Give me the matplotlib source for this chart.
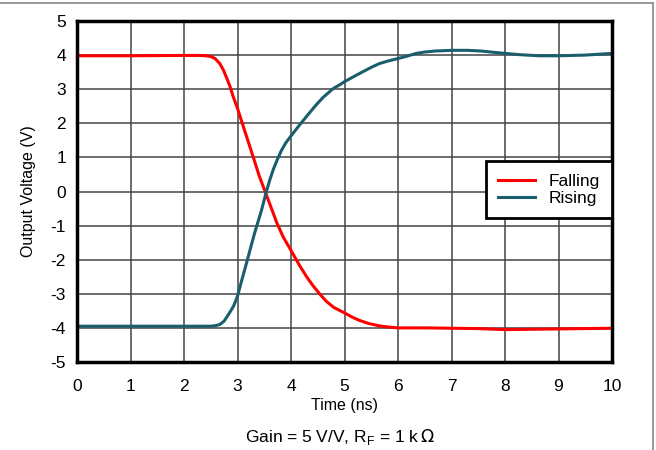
import matplotlib.pyplot as plt
from matplotlib.lines import Line2D

plt.rcParams["font.family"] = ["Liberation Sans", "DejaVu Sans"]
plt.rcParams["axes.unicode_minus"] = False

# Falling edge (red)
falling_t = [0.0, 1.0, 2.0, 2.3, 2.4, 2.5, 2.58, 2.67, 2.74, 2.79, 2.86,
             2.92, 3.0, 3.11, 3.23, 3.32, 3.41, 3.54, 3.6, 3.73, 3.85,
             3.99, 4.16, 4.3, 4.41, 4.55, 4.66, 4.8, 5.0, 5.15, 5.28,
             5.45, 5.65, 5.85, 6.0, 6.55, 7.0, 7.5, 8.0, 8.5, 9.0, 9.5, 10.0]
falling_v = [3.98, 3.98, 3.99, 3.99, 3.98, 3.96, 3.9, 3.75, 3.55, 3.36, 3.08,
             2.78, 2.44, 1.9, 1.32, 0.88, 0.44, -0.1, -0.35, -0.9, -1.32,
             -1.70, -2.17, -2.52, -2.76, -3.03, -3.22, -3.4, -3.56, -3.69, -3.78,
             -3.87, -3.94, -3.98, -4.0, -4.0, -4.01, -4.02, -4.05, -4.04, -4.03,
             -4.02, -4.01]

# Rising edge (teal)
rising_t = [0.0, 1.0, 2.0, 2.5, 2.6, 2.67, 2.75, 2.85, 2.93, 3.0, 3.08,
            3.17, 3.25, 3.32, 3.45, 3.54, 3.6, 3.67, 3.75, 3.82, 3.9, 3.99,
            4.08, 4.16, 4.3, 4.47, 4.6, 4.79, 4.9, 5.0, 5.15, 5.34, 5.5,
            5.65, 5.8, 6.0, 6.15, 6.34, 6.5, 6.7, 7.0, 7.3, 7.55, 7.8, 8.0,
            8.3, 8.64, 9.0, 9.5, 10.0]
rising_v = [-3.95, -3.95, -3.95, -3.95, -3.93, -3.9, -3.8, -3.56, -3.35, -3.07,
            -2.6, -2.09, -1.62, -1.22, -0.54, 0.0, 0.32, 0.65, 0.96, 1.2, 1.42,
            1.61, 1.79, 1.95, 2.22, 2.54, 2.76, 3.02, 3.12, 3.22, 3.35, 3.51,
            3.64, 3.75, 3.82, 3.9, 3.96, 4.05, 4.09, 4.12, 4.14, 4.14, 4.12,
            4.08, 4.05, 4.01, 3.98, 3.98, 4.0, 4.05]

x_ticks = list(range(0, 11))
y_ticks = list(range(-5, 6))

fig = plt.figure(figsize=(6.56, 4.5), dpi=100)
ax = fig.add_axes([77 / 656, 1 - 362 / 450, (612 - 77) / 656, (362 - 21) / 450])

ax.plot(falling_t, falling_v, color="#ff0000", linewidth=2.2,
        solid_joinstyle="round", label="Falling")
ax.plot(rising_t, rising_v, color="#1a5e6e", linewidth=2.2,
        solid_joinstyle="round", label="Rising")

ax.set_xlim(0, 10)
ax.set_ylim(-5, 5)
ax.set_xticks(x_ticks)
ax.set_yticks(y_ticks)
ax.tick_params(length=0, labelsize=12.5)
ax.tick_params(axis="x", pad=12)
ax.tick_params(axis="y", pad=8)
ax.grid(True, color="#444444", linewidth=1.1)
ax.set_axisbelow(True)
for spine in ax.spines.values():
    spine.set_linewidth(2.5)
    spine.set_color("black")

ax.set_xlabel("Time (ns)", fontsize=11.5, labelpad=3)
ax.set_ylabel("Output Voltage (V)", fontsize=11.5, labelpad=10)

legend = ax.legend(
    loc="upper right",
    bbox_to_anchor=(1.0, 0.588),
    fontsize=12.5,
    frameon=True,
    fancybox=False,
    handlelength=2.1,
    handletextpad=0.8,
    borderpad=0.7,
    labelspacing=0.1,
    borderaxespad=0,
)
legend.get_frame().set_edgecolor("black")
legend.get_frame().set_linewidth(2.0)
legend.get_frame().set_alpha(1)

fig.text(340 / 656, 1 - 437 / 450,
         r"Gain = 5 V/V, R$_\mathregular{F}$ = 1 k$\,\Omega$",
         ha="center", va="center", fontsize=12.5)

# outer frame lines (top and right)
fig.add_artist(Line2D([0, 652.5 / 656], [1 - 2.5 / 450, 1 - 2.5 / 450],
                      transform=fig.transFigure, color="#888888", linewidth=1.2))
fig.add_artist(Line2D([652.5 / 656, 652.5 / 656], [0, 1 - 2.5 / 450],
                      transform=fig.transFigure, color="#888888", linewidth=1.2))

fig.savefig("out.png", dpi=100)
